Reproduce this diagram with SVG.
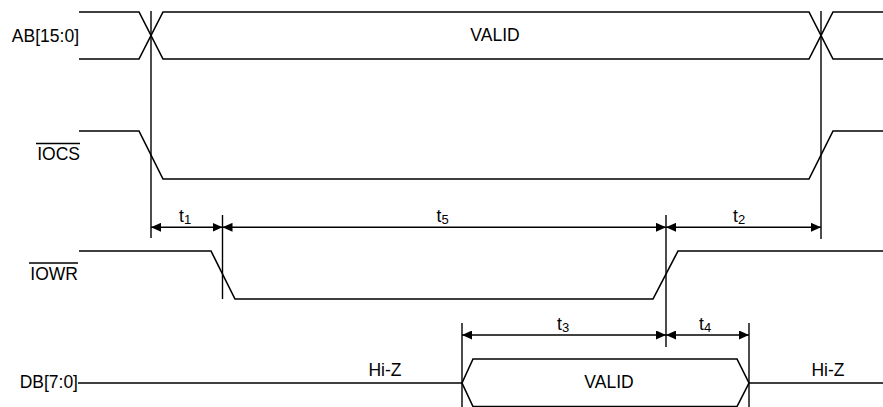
<svg xmlns="http://www.w3.org/2000/svg" width="883" height="407" viewBox="0 0 883 407">
<style>
.sig{fill:none;stroke:#000;stroke-width:1.6;stroke-linejoin:miter}
.ref{fill:none;stroke:#000;stroke-width:1.4}
.dim{fill:none;stroke:#000;stroke-width:1.4;marker-start:url(#arrS);marker-end:url(#arrE)}
text{font-family:"Liberation Sans",Arial,sans-serif;font-size:17.5px;fill:#000}
.lbl{text-anchor:end}
.mid{text-anchor:middle}
.sub{font-size:13px}
</style>
<defs>
<marker id="arrE" markerUnits="userSpaceOnUse" markerWidth="11" markerHeight="10" refX="10" refY="4.5" orient="auto">
<path d="M0,0 L10,4.5 L0,9 Z" fill="#000"/>
</marker>
<marker id="arrS" markerUnits="userSpaceOnUse" markerWidth="11" markerHeight="10" refX="0" refY="4.5" orient="auto">
<path d="M10,0 L0,4.5 L10,9 Z" fill="#000"/>
</marker>
</defs>
<rect width="883" height="407" fill="#fff"/>

<g id="ab">
<text class="lbl" x="79" y="41.7">AB[15:0]</text>
<path class="sig" d="M79,12 H139 L163,59 H809 L833,12 H883"/>
<path class="sig" d="M79,59 H139 L163,12 H809 L833,59 H883"/>
<text class="mid" x="495" y="40.7">VALID</text>
</g>

<g id="iocs">
<text class="lbl" x="80" y="160">IOCS</text>
<line class="ref" x1="36" y1="143.5" x2="80" y2="143.5"/>
<path class="sig" d="M79,131 H139 L163,179 H809 L833,131 H883"/>
</g>

<g id="iowr">
<text class="lbl" x="78" y="280">IOWR</text>
<line class="ref" x1="29" y1="263" x2="78" y2="263"/>
<path class="sig" d="M79,251 H211 L235,299 H653 L678,251 H883"/>
</g>

<g id="db">
<text class="lbl" x="78" y="387.7">DB[7:0]</text>
<path class="sig" d="M78,383 H462 M749,383 H883"/>
<path class="sig" d="M462,383 L473,359 H737 L749,383 L737,406.5 H473 Z"/>
<text class="mid" x="609" y="388">VALID</text>
<text class="mid" x="385" y="376">Hi-Z</text>
<text class="mid" x="828" y="376">Hi-Z</text>
</g>

<g id="connectors">
<line class="ref" x1="151" y1="11" x2="151" y2="238"/>
<line class="ref" x1="821" y1="11" x2="821" y2="239"/>
<line class="ref" x1="222.5" y1="215" x2="222.5" y2="299"/>
<line class="ref" x1="666" y1="215" x2="666" y2="347"/>
<line class="ref" x1="462" y1="323" x2="462" y2="407"/>
<line class="ref" x1="749" y1="323" x2="749" y2="407"/>
<line class="dim" x1="151" y1="227.3" x2="222.5" y2="227.3"/>
<line class="dim" x1="222.5" y1="227.3" x2="666" y2="227.3"/>
<line class="dim" x1="666" y1="227.3" x2="821" y2="227.3"/>
<line class="dim" x1="462" y1="335" x2="666" y2="335"/>
<line class="dim" x1="666" y1="335" x2="749" y2="335"/>
<text x="179" y="222">t<tspan class="sub" dy="1.5">1</tspan></text>
<text x="436.5" y="222">t<tspan class="sub" dy="1.5">5</tspan></text>
<text x="733" y="222">t<tspan class="sub" dy="1.5">2</tspan></text>
<text x="557" y="330">t<tspan class="sub" dy="1.5">3</tspan></text>
<text x="699" y="330">t<tspan class="sub" dy="1.5">4</tspan></text>
</g>
</svg>
